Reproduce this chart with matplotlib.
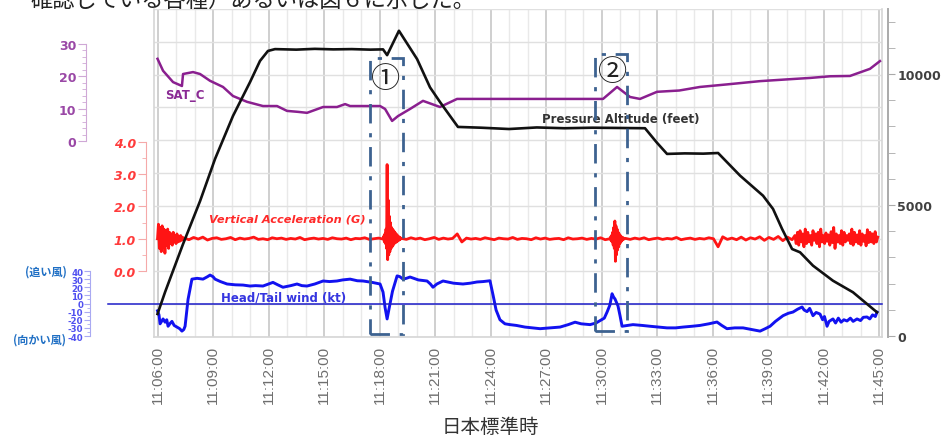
import numpy as np
import matplotlib
matplotlib.use('Agg')
import matplotlib.pyplot as plt
from matplotlib.patches import Rectangle
from matplotlib.ticker import MultipleLocator, FixedLocator

plt.rcParams['font.family'] = ['DejaVu Sans']
plt.rcParams['axes.unicode_minus'] = False
CJK = ['Noto Sans CJK JP', 'DejaVu Sans']

# ---------------- data (time = minutes after 11:06:00) ----------------
tick_labels = ["11:06:00", "11:09:00", "11:12:00", "11:15:00", "11:18:00", "11:21:00",
               "11:24:00", "11:27:00", "11:30:00", "11:33:00", "11:36:00", "11:39:00",
               "11:42:00", "11:45:00"]

alt_t = [0.0, 0.41, 1.38, 2.30, 3.11, 4.08, 5.0, 5.54, 5.97, 6.35, 7.5, 8.5, 9.5, 10.5,
         11.5, 12.19, 12.41, 13.05, 14.03, 14.73, 15.27, 15.81, 16.24, 17.5, 19.0, 20.5,
         22.0, 23.5, 25.0, 26.35, 26.98, 27.54, 28.5, 29.5, 30.30, 31.49, 32.73, 33.27,
         33.76, 34.30, 34.73, 35.43, 36.51, 37.59, 38.89]
alt_ft = [840, 1680, 3510, 5150, 6760, 8400, 9690, 10500, 10880, 10950, 10930, 10960,
          10940, 10950, 10930, 10940, 10720, 11650, 10570, 9490, 8930, 8400, 7980, 7950,
          7900, 7960, 7930, 7950, 7940, 7930, 7390, 6950, 6970, 6960, 6985, 6120, 5355,
          4850, 4085, 3320, 3195, 2685, 2110, 1670, 905]

sat_t = [0.0, 0.30, 0.84, 1.32, 1.38, 1.92, 2.30, 2.84, 3.54, 4.08, 4.84, 5.70, 6.46, 7.0,
         7.6, 8.08, 8.95, 9.70, 10.14, 10.41, 11.2, 12.03, 12.30, 12.68, 13.0, 13.65,
         14.35, 15.27, 16.19, 18.0, 20.0, 22.0, 24.08, 24.84, 25.54, 26.08, 27.0, 28.2,
         29.32, 30.8, 32.57, 34.19, 35.3, 36.35, 37.43, 38.51, 39.05]
sat_c = [25.4, 21.7, 18.2, 17.0, 20.7, 21.3, 20.7, 18.6, 16.7, 13.9, 12.1, 10.8, 10.8, 9.3,
         9.0, 8.7, 10.5, 10.5, 11.4, 10.8, 10.8, 10.8, 9.9, 6.2, 7.7, 9.9, 12.4, 10.5, 13.0,
         13.0, 13.0, 13.0, 13.0, 16.7, 13.6, 13.0, 15.2, 15.6, 16.7, 17.5, 18.5, 19.1, 19.5,
         20.0, 20.1, 22.3, 24.7]

# vertical acceleration, recorded in segments: (start minute, sample step, values)
acc_seg_start = [0.0, 1.45, 12.2, 13.2, 24.45, 25.3, 34.45]
acc_seg_step = [0.05, 0.25, 0.03, 0.25, 0.03, 0.25, 0.07]
acc_seg_vals = [
    [1.0, 1.45, 0.7, 1.35, 0.6, 1.4, 0.75, 1.3, 0.55, 1.25, 0.8, 1.3, 0.7, 1.2, 0.85,
     1.15, 0.8, 1.2, 0.9, 1.1, 0.85, 1.15, 0.9, 1.08, 0.92, 1.1, 0.95, 1.05, 0.97],
    [1.02, 0.97, 1.04, 0.99, 1.05, 0.96, 1.01, 1.03, 0.98, 1.0, 1.04, 0.97, 1.02, 0.99,
     1.01, 1.05, 0.98, 1.0, 0.97, 1.03, 1.0, 1.02, 0.98, 1.01, 0.99, 1.04, 0.97, 1.0,
     1.02, 0.99, 1.01, 0.98, 1.03, 1.0, 0.99, 1.02, 0.97, 1.01, 1.0, 1.03, 0.98, 1.0,
     1.02, 0.99],
    [1.0, 1.08, 0.9, 1.15, 0.85, 1.3, 0.7, 3.3, 0.35, 2.2, 0.5, 1.7, 0.6, 1.5, 0.7, 1.35,
     0.75, 1.3, 0.8, 1.25, 0.85, 1.2, 0.88, 1.15, 0.9, 1.12, 0.93, 1.08, 0.95, 1.05,
     0.97, 1.03, 1.0],
    [1.01, 0.98, 1.03, 0.99, 1.02, 0.97, 1.0, 1.04, 0.98, 1.02, 0.99, 1.01, 1.15, 0.9,
     1.02, 0.99, 1.01, 0.98, 1.03, 1.0, 0.97, 1.02, 1.0, 0.99, 1.04, 0.98, 1.01, 1.0,
     0.97, 1.03, 0.99, 1.02, 0.98, 1.0, 1.01, 0.97, 1.03, 0.99, 1.0, 1.02, 0.98, 1.01,
     0.99, 1.03, 0.97, 1.0],
    [1.0, 1.05, 0.95, 1.1, 0.9, 1.2, 0.8, 1.35, 0.7, 1.55, 0.3, 1.4, 0.5, 1.3, 0.65, 1.2,
     0.75, 1.15, 0.85, 1.1, 0.9, 1.06, 0.95, 1.04, 0.97, 1.02, 1.0],
    [1.01, 0.98, 1.02, 0.99, 1.03, 0.97, 1.0, 1.02, 0.98, 1.01, 0.99, 1.04, 0.97, 1.0,
     1.02, 0.98, 1.01, 0.99, 1.03, 1.0, 0.75, 1.06, 0.98, 1.02, 0.97, 1.05, 0.96, 1.03,
     0.99, 1.06, 0.95, 1.04, 0.98, 1.07, 0.94, 1.05, 0.97],
    [1.1, 0.85, 1.2, 0.8, 1.25, 0.9, 1.15, 0.75, 1.3, 0.85, 1.2, 0.9, 1.1, 0.8, 1.25,
     0.95, 1.15, 0.85, 1.2, 0.75, 1.3, 0.9, 1.1, 0.85, 1.18, 0.92, 1.12, 0.8, 1.22, 0.88,
     1.35, 0.7, 1.15, 0.9, 1.1, 0.85, 1.25, 0.8, 1.2, 0.9, 1.1, 0.95, 1.15, 0.85, 1.3,
     0.8, 1.2, 0.9, 1.12, 0.85, 1.25, 0.8, 1.15, 0.92, 1.1, 0.78, 1.28, 0.88, 1.2, 0.9,
     1.15, 0.85, 1.22, 0.9, 1.05],
]

wind_t = [0.0, 0.08, 0.14, 0.3, 0.41, 0.5, 0.57, 0.7, 0.78, 0.9, 1.05, 1.2, 1.32, 1.42,
          1.49, 1.65, 1.86, 2.14, 2.46, 2.7, 2.84, 3.0, 3.11, 3.4, 3.76, 4.2, 4.62, 5.0,
          5.3, 5.7, 6.0, 6.24, 6.5, 6.78, 7.2, 7.54, 7.8, 8.08, 8.5, 8.95, 9.3, 9.7, 10.0,
          10.41, 10.8, 11.11, 11.6, 12.03, 12.19, 12.3, 12.41, 12.51, 12.7, 12.95, 13.1,
          13.27, 13.45, 13.65, 14.1, 14.57, 14.75, 14.89, 15.1, 15.43, 16.0, 16.51, 16.9,
          17.27, 17.6, 17.97, 18.14, 18.3, 18.51, 18.78, 19.05, 19.4, 19.86, 20.3, 20.68,
          21.2, 21.76, 22.2, 22.57, 22.9, 23.38, 23.7, 23.92, 24.15, 24.30, 24.45, 24.57,
          24.65, 24.73, 24.89, 25.0, 25.11, 25.4, 25.70, 26.2, 26.62, 27.1, 27.54, 28.0,
          28.41, 28.9, 29.32, 29.8, 30.24, 30.5, 30.78, 31.2, 31.65, 32.1, 32.57, 32.85,
          33.11, 33.4, 33.81, 34.1, 34.35, 34.6, 34.84, 34.95, 35.11, 35.25, 35.43, 35.6,
          35.81, 35.95, 36.05, 36.19, 36.3, 36.51, 36.65, 36.8, 36.95, 37.1, 37.27, 37.45,
          37.6, 37.81, 38.0, 38.15, 38.35, 38.5, 38.65, 38.8, 38.89]
wind_kt = [-9, -14, -25, -19, -23, -20, -28, -24, -22, -27, -29, -31, -34, -32, -28, 5, 30,
           31, 30, 33, 35, 33, 30, 27, 24, 23, 22.7, 21.5, 22, 21.5, 24, 26, 23, 20, 22,
           24, 22, 21.5, 24, 27.7, 27, 27.7, 29, 30, 28, 27.7, 26, 24, 14, -5, -19, -7, 15,
           34, 33, 30, 31, 32.6, 29, 27.7, 24, 20, 24, 27.7, 25, 24, 25, 26.5, 27, 28, 10,
           -8, -20, -25, -26, -27, -29, -30, -31, -30, -29, -26, -23, -25, -26, -24, -21,
           -18, -10.5, -2, 12, 8, 5.5, -3, -15, -28, -27, -26, -27, -28, -29, -30, -30, -29,
           -28, -27, -25, -22.8, -27, -31, -30, -30, -32, -34, -31, -28, -22, -15, -12,
           -10.5, -7, -4.3, -8, -10, -6, -15, -11, -13, -20, -16, -28, -22, -19, -24, -18,
           -23, -20, -21.5, -18, -22, -19, -21, -17, -16.6, -19, -14, -16, -10.5]

# ---------------- layout ----------------
W, H = 943, 439
fig = plt.figure(figsize=(W / 100, H / 100), dpi=100)
L, R, T, B = 154, 882, 10, 338
ax = fig.add_axes([L / W, 1 - B / H, (R - L) / W, (B - T) / H])

tick_pos = [int(s[0:2]) * 60 + int(s[3:5]) - (11 * 60 + 6) for s in tick_labels]
ax.set_xlim(-0.19, 39.16)
ax.set_ylim(0, 10)
ax.xaxis.set_major_locator(FixedLocator(tick_pos))
ax.xaxis.set_minor_locator(MultipleLocator(1))
ax.set_xticklabels(tick_labels, rotation=90, fontsize=11, color='#6e6e6e',
                   family='Liberation Sans')
ax.tick_params(axis='x', which='both', length=0, pad=6)
ax.yaxis.set_major_locator(MultipleLocator(1))
ax.tick_params(axis='y', which='both', length=0, labelleft=False)
ax.grid(True, axis='x', which='minor', color='#e9e9e9', lw=1.0)
ax.grid(True, axis='x', which='major', color='#cfcfcf', lw=1.4)
ax.grid(True, axis='y', which='major', color='#e0e0e0', lw=1.0)
ax.set_axisbelow(True)
ax.spines['top'].set_visible(False)
for s in ['left', 'bottom', 'right']:
    ax.spines[s].set_color('#d6d6d6')
    ax.spines[s].set_linewidth(1.2)


def make_twin(z):
    a = ax.twinx()
    a.set_zorder(z)
    a.patch.set_visible(False)
    for s in ['top', 'bottom', 'left', 'right']:
        a.spines[s].set_visible(False)
    return a


# wind axis
ax_w = make_twin(2)
ax_w.set_ylim(-41.23, 362.5)
ax_w.yaxis.set_ticks_position('left')
ax_w.spines['left'].set_visible(True)
ax_w.spines['left'].set_position(('outward', L - 108))
ax_w.spines['left'].set_bounds(-40, 40)
ax_w.spines['left'].set_color('#a9a9f2')
ax_w.yaxis.set_major_locator(FixedLocator(list(range(-40, 41, 10))))
ax_w.yaxis.set_minor_locator(FixedLocator(list(range(-35, 40, 10))))
ax_w.tick_params(axis='y', which='major', length=4, color='#a9a9f2', pad=1,
                 labelsize=6.2, labelcolor='#5050f0')
ax_w.tick_params(axis='y', which='minor', length=2.5, color='#a9a9f2')
for lab in ax_w.get_yticklabels():
    lab.set_fontweight('bold')
ax_w.plot(wind_t, wind_kt, color='#1212f0', lw=2.1, solid_joinstyle='round')
ax_w.plot([(108 - L) / (R - L), 1], [0, 0], transform=ax_w.get_yaxis_transform(),
          color='#1c1cc8', lw=1.1, clip_on=False)

# acceleration axis
ax_a = make_twin(3)
ax_a.set_ylim(-2.047, 8.124)
ax_a.yaxis.set_ticks_position('left')
ax_a.spines['left'].set_visible(True)
ax_a.spines['left'].set_position(('outward', L - 148))
ax_a.spines['left'].set_bounds(0, 4)
ax_a.spines['left'].set_color('#f5a9a9')
ax_a.yaxis.set_major_locator(FixedLocator([0, 1, 2, 3, 4]))
ax_a.yaxis.set_minor_locator(FixedLocator([0.5, 1.5, 2.5, 3.5]))
ax_a.set_yticklabels(['0.0', '1.0', '2.0', '3.0', '4.0'], fontsize=9, color='#ff3b3b',
                     fontweight='bold', fontstyle='italic')
ax_a.tick_params(axis='y', which='major', length=6, color='#f5a9a9', pad=1)
ax_a.tick_params(axis='y', which='minor', length=3, color='#f5a9a9')
acc_t, acc_v = [], []
for st, step, vals in zip(acc_seg_start, acc_seg_step, acc_seg_vals):
    acc_t.extend(st + step * np.arange(len(vals)))
    acc_v.extend(vals)
ax_a.plot(acc_t, acc_v, color='#ff1414', lw=2.0)

# SAT axis
ax_s = make_twin(4)
ax_s.set_ylim(-60.6, 40.8)
ax_s.yaxis.set_ticks_position('left')
ax_s.spines['left'].set_visible(True)
ax_s.spines['left'].set_position(('outward', L - 105))
ax_s.spines['left'].set_bounds(0, 30)
ax_s.spines['left'].set_color('#cfa8d6')
ax_s.yaxis.set_major_locator(FixedLocator([0, 10, 20, 30]))
ax_s.yaxis.set_minor_locator(FixedLocator([2, 4, 6, 8, 12, 14, 16, 18, 22, 24, 26, 28]))
ax_s.set_yticklabels(['0', '10', '20', '30'], fontsize=9, color='#9a48a6',
                     fontweight='bold')
ax_s.tick_params(axis='y', which='major', length=6, color='#cfa8d6', pad=1)
ax_s.tick_params(axis='y', which='minor', length=3, color='#cfa8d6')
ax_s.plot(sat_t, sat_c, color='#8a1f8f', lw=1.8)

# altitude axis (right)
ax_h = make_twin(5)
ax_h.set_ylim(-38, 12481)
ax_h.yaxis.set_ticks_position('right')
ax_h.spines['right'].set_visible(True)
ax_h.spines['right'].set_position(('outward', 4))
ax_h.spines['right'].set_color('#aaaaaa')
ax_h.spines['right'].set_linewidth(1.4)
ax_h.yaxis.set_major_locator(FixedLocator([0, 5000, 10000]))
ax_h.yaxis.set_minor_locator(MultipleLocator(1000))
ax_h.set_yticklabels(['0', '5000', '10000'], fontsize=9, color='#404040',
                     fontweight='bold')
ax_h.tick_params(axis='y', which='both', length=5, color='#aaaaaa', pad=2)
ax_h.plot(alt_t, alt_ft, color='#111111', lw=1.9)

# ---------------- annotations ----------------
tr = ax_h.get_xaxis_transform()
for (x0, x1, y0, y1) in [(11.49, 13.27, 0.009, 0.851), (23.65, 25.38, 0.018, 0.863)]:
    ax_h.add_patch(Rectangle((x0, y0), x1 - x0, y1 - y0, transform=tr, fill=False,
                             edgecolor='#3d6290', lw=2.0,
                             linestyle=(0, (7, 3.5, 1.5, 3.5)), zorder=6))
ax_h.text(12.35, 0.787, '①', transform=tr, fontsize=21, family=CJK, ha='center',
          va='center', color='#222222', zorder=7)
ax_h.text(24.57, 0.808, '②', transform=tr, fontsize=21, family=CJK, ha='center',
          va='center', color='#222222', zorder=7)

ax_h.text(1.49, 0.738, 'SAT_C', transform=tr, fontsize=8.5, fontweight='bold',
          color='#8a2a94', ha='center', va='center')
ax_h.text(25.05, 0.665, 'Pressure Altitude (feet)', transform=tr, fontsize=8.5,
          fontweight='bold', color='#333333', ha='center', va='center')
ax_h.text(7.0, 0.36, 'Vertical Acceleration (G)', transform=tr, fontsize=8.2,
          fontweight='bold', fontstyle='italic', color='#ff2a2a', ha='center',
          va='center')
ax_h.text(6.84, 0.122, 'Head/Tail wind (kt)', transform=tr, fontsize=8.5,
          fontweight='bold', color='#3535e0', ha='center', va='center')

fig.text(46 / W, 1 - 272 / H, '(追い風)', fontsize=8, family=CJK, fontweight='bold',
         color='#1f6fc4', ha='center', va='center')
fig.text(40 / W, 1 - 340 / H, '(向かい風)', fontsize=8, family=CJK, fontweight='bold',
         color='#1f6fc4', ha='center', va='center')

fig.text(490 / W, 1 - 428 / H, '日本標準時', fontsize=14, family=CJK, color='#333333',
         ha='center', va='center')
fig.text(30 / W, 1 - 7 / H, '確認している各種）あるいは図６に示した。', fontsize=16,
         family=CJK, color='#222222', ha='left', va='baseline')

fig.savefig('out.png', dpi=100)
